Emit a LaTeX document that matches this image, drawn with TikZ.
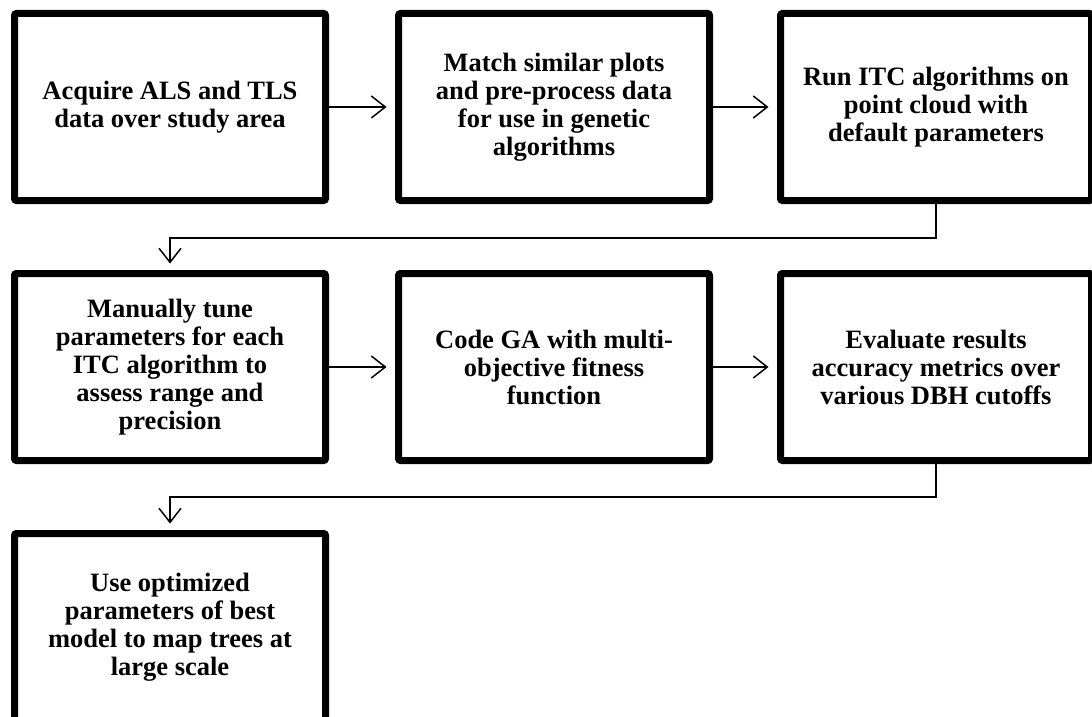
\documentclass[tikz,border=0pt]{standalone}
\usepackage{fontspec}
\setmainfont{Liberation Serif}
\usetikzlibrary{arrows.meta}
\usetikzlibrary{shadows}

\begin{document}
\begin{tikzpicture}[x=1pt,y=-1pt,
  stepbox/.style={draw, line width=7pt, rounded corners=2pt, fill=white,
    minimum width=311pt, minimum height=187pt, inner sep=0pt, align=center,
    font=\fontsize{26.5}{28}\selectfont\bfseries,
    drop shadow={shadow xshift=2pt, shadow yshift=-3pt, opacity=.3}},
  link/.style={line width=1.5pt, -{Straight Barb[length=14pt,width=22pt]}}]
\path[use as bounding box, clip] (0,0) rectangle (1092,717);

% first row
\node[stepbox] (acquire) at (170,107) {Acquire ALS and TLS\\data over study area};
\node[stepbox] (match) at (554,107) {Match similar plots\\and pre-process data\\for use in genetic\\algorithms};
\node[stepbox] (run) at (936,107) {Run ITC algorithms on\\point cloud with\\default parameters};
\draw[link, shorten >=8.5pt] (acquire.east) -- (match.west);
\draw[link, shorten >=8.5pt] (match.east) -- (run.west);

% second row
\node[stepbox] (tune) at (170,367) {Manually tune\\parameters for each\\ITC algorithm to\\assess range and\\precision};
\node[stepbox] (code) at (554,367) {Code GA with multi-\\objective fitness\\function};
\node[stepbox] (evaluate) at (936,367) {Evaluate results\\accuracy metrics over\\various DBH cutoffs};
\draw[link, shorten >=8.5pt] (tune.east) -- (code.west);
\draw[link, shorten >=8.5pt] (code.east) -- (evaluate.west);

% third row
\node[stepbox] (use) at (170,627) {Use optimized\\parameters of best\\model to map trees at\\large scale};

% row to row
\coordinate (turnA) at (936,238);
\coordinate (turnB) at (170,238);
\draw[link, shorten >=6.5pt] (run.south) -- (turnA) -- (turnB) -- (tune.north);
\coordinate (turnC) at (936,497);
\coordinate (turnD) at (170,497);
\draw[link, shorten >=6.5pt] (evaluate.south) -- (turnC) -- (turnD) -- (use.north);

\end{tikzpicture}
\end{document}
